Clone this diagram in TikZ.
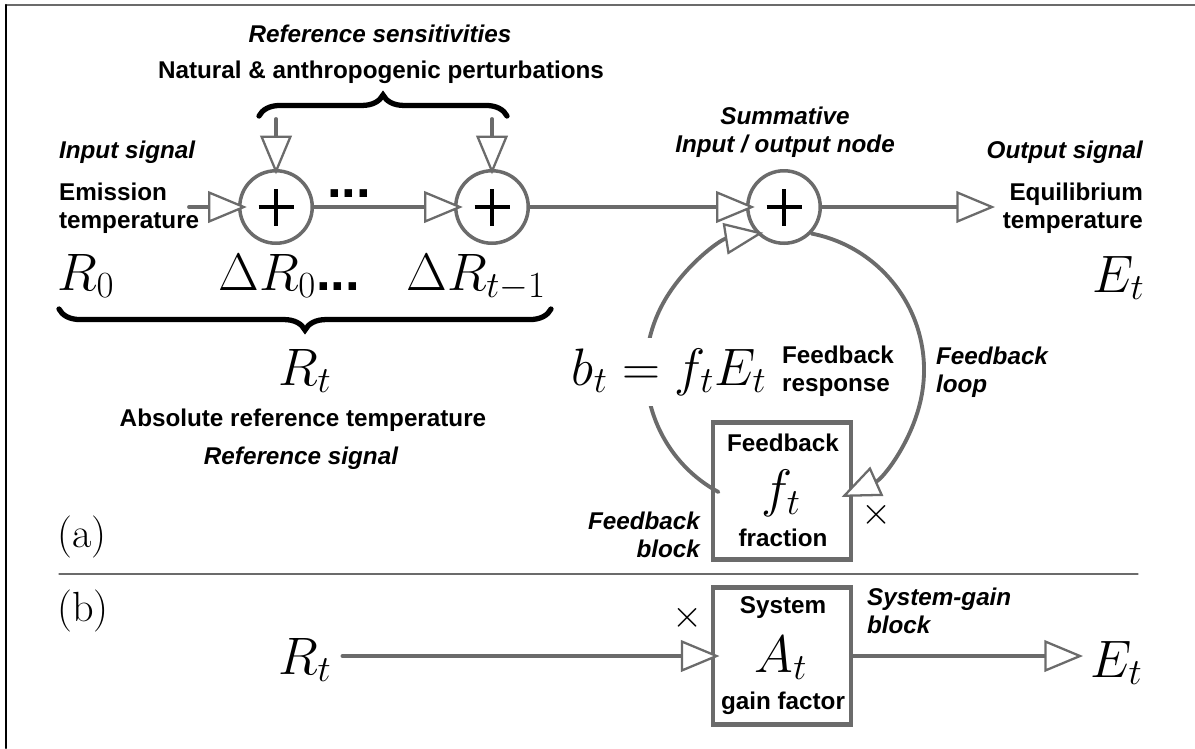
\RequirePackage{fix-cm}
\documentclass[tikz,border=0pt]{standalone}
\usepackage{fontspec}
\newfontfamily\diagfont{Liberation Sans}
\usepackage{tikz}
\usetikzlibrary{arrows.meta}
\usetikzlibrary{decorations.pathreplacing}

\begin{document}
\begin{tikzpicture}
[x=0.02cm,y=-0.02cm,line cap=round,
% Styles
signal line/.style={draw=linecolor,line width=2.2pt,
  -{Triangle[fill=white,length=22pt,width=18pt,line width=1.3pt]},shorten >=-5pt},
summing node/.style={circle,draw=linecolor,line width=2pt,minimum size=1.45cm,inner sep=0pt,
  path picture={\draw[black,line width=1.9pt,line cap=butt]
    (path picture bounding box.center) +(-0.35cm,0) -- +(0.35cm,0)
    +(0,-0.37cm) -- +(0,0.37cm);}},
block/.style={rectangle,draw=linecolor,line width=2.6pt,minimum width=2.76cm,
  minimum height=2.74cm,inner sep=0pt},
label text/.style={font=\diagfont\bfseries\fontsize{13.8}{15.8}\selectfont,inner sep=1pt},
italic text/.style={font=\diagfont\bfseries\itshape\fontsize{13.8}{15.8}\selectfont,inner sep=1pt},
big math/.style={font=\fontsize{30}{30}\selectfont,inner sep=0pt},
part label/.style={font=\fontsize{24}{24}\selectfont,inner sep=0pt,anchor=base west},
times sign/.style={font=\fontsize{22}{22}\selectfont,inner sep=0pt},
brace line/.style={decorate,decoration={brace,amplitude=12pt},line width=3pt}]
% Colors
\colorlet{linecolor}{black!58}
\useasboundingbox (0,0) rectangle (1195,748);
% Frame
\draw[linecolor,line width=1.2pt] (6,5) -- (1195,5);
\draw[line width=1.2pt] (6,5) -- (6,748);

% (a) forward path
\node[summing node] (sum1) at (276,207) {};
\node[summing node] (sum2) at (492,207) {};
\node[summing node] (sum3) at (784,207) {};
\coordinate (in) at (189,207);
\coordinate (out) at (995,207);
\draw[signal line] (in) -- (sum1);
\draw[signal line] (sum1) -- (sum2);
\draw[signal line] (sum2) -- (sum3);
\draw[signal line,shorten >=0pt] (sum3) -- (out);
\node[big math,font=\diagfont\bfseries\fontsize{30}{30}\selectfont,anchor=base] (gap) at (349,197) {...};

% perturbations
\node[italic text] (sens) at (380,34) {Reference sensitivities};
\node[label text] (pert) at (381,72) {Natural \& anthropogenic perturbations};
\draw[brace line] (259,116) -- (507,116);
\coordinate (p1) at (276,119);
\coordinate (p2) at (492,119);
\draw[signal line,shorten >=-3pt] (p1) -- (sum1);
\draw[signal line,shorten >=-3pt] (p2) -- (sum2);

% input side
\node[italic text,anchor=west] (insig) at (57,152) {Input signal};
\node[label text,anchor=west,align=left] (emis) at (57,208) {Emission\\temperature};
\node[big math,anchor=base west] (r0) at (57,290) {$R_0$};
\node[big math,anchor=base west] (dr0) at (218,290) {$\Delta R_0$\diagfont\bfseries...};
\node[big math,anchor=base west] (drt) at (406,290) {$\Delta R_{t-1}$};
\draw[brace line] (551,309) -- (59,309);
\node[big math,anchor=base] (rt) at (305,385) {$R_t$};
\node[label text] (abs) at (303,420) {Absolute reference temperature};
\node[italic text] (refsig) at (301,458) {Reference signal};
\node[part label] (parta) at (57,547) {(a)};

% output side
\node[italic text,align=center] (summ) at (785,132) {Summative\\Input / output node};
\node[italic text,anchor=east] (outsig) at (1145,152) {Output signal};
\node[label text,anchor=east,align=right] (equil) at (1145,208) {Equilibrium\\temperature};
\node[big math,anchor=base east] (et) at (1145,292) {$E_t$};

% blocks
\foreach \blk/\y/\toptext/\sym/\bottomtext in
  {fb/491/Feedback/f_t/fraction,sys/656/System/A_t/gain factor}
{
  \node[block] (\blk) at (782,\y) {};
  \node[label text] (\blk-top) at (783,\y-48) {\toptext};
  \node[big math] (\blk-sym) at (781,\y+2) {$\sym$};
  \node[label text] (\blk-bottom) at (783,\y+47) {\bottomtext};
}

% feedback loop
\coordinate (loop) at (785,370);
\draw[signal line,shorten >=0pt] (loop) ++(-79:139) arc[start angle=-79,end angle=66,radius=139];
\draw[signal line,shorten >=0pt] (loop) ++(118.6:139) arc[start angle=118.6,end angle=261,radius=139];
\node[big math,anchor=base west,fill=white,inner xsep=2pt,inner ysep=6pt] (bt) at (568,385) {$b_t = f_t E_t$};
\node[label text,anchor=west,align=left] (resp) at (780,371) {Feedback\\response};
\node[italic text,anchor=west,align=left] (loopname) at (934,372) {Feedback\\loop};
\node[italic text,anchor=east,align=right] (fbname) at (702,535) {Feedback\\block};
\node[times sign] (mul1) at (877,515) {$\times$};

\draw[linecolor,line width=0.6pt] (59,574) -- (1138,574);

% (b) system gain
\node[part label] (partb) at (57,621) {(b)};
\node[big math,anchor=base west] (rtb) at (278,674) {$R_t$};
\coordinate (outb) at (1083,656);
\draw[signal line,shorten <=6pt] (rtb.east |- sys.west) -- (sys.west);
\draw[signal line,shorten >=0pt] (sys) -- (outb);
\node[big math,anchor=base west] (etb) at (1090,677) {$E_t$};
\node[times sign] (mul2) at (688,618) {$\times$};
\node[italic text,anchor=west,align=left] (sysname) at (865,611) {System-gain\\block};
\end{tikzpicture}
\end{document}
